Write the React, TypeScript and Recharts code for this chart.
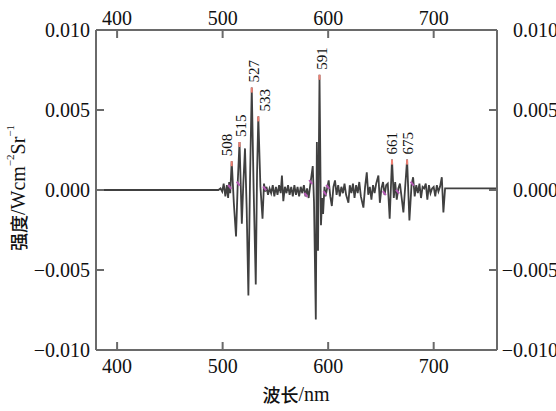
import React from 'react';
import { ComposedChart, Line, Scatter, XAxis, YAxis, Label } from 'recharts';

// Wavelength (nm) samples of the spectrum
const wavelength = [
  380, 496, 498, 499.6, 501, 502.6, 504, 505.2, 506.2, 507.2, 508.6, 510.6, 512.7, 514.4, 516.0, 518.2,
  519.6, 521.2, 522.8, 524.4, 526.0, 527.6, 529.4, 531.4, 532.6, 533.8, 535.8, 537.8, 539.2, 540.4,
  541.6, 543, 544.5, 546, 547.5, 549, 550.5, 552, 553.5, 555, 556.2, 557.5, 559, 560.5, 562, 563.5,
  565, 566.5, 568, 569.5, 571, 572.5, 574, 575.5, 577, 578.5, 580, 581.5, 583, 585.4, 586.6, 588.3,
  589.3, 590.4, 591.8, 593.2, 594.3, 595.2, 596.5, 597.5, 599, 600.5, 602, 603.5, 605, 606.5, 608,
  609.5, 611, 612.5, 614, 615.5, 617, 619.2, 620.5, 622, 623.5, 625, 626.5, 628, 629.5, 631, 633.4,
  635, 636.6, 638, 639.5, 641, 642.5, 644, 645.5, 647.6, 649, 650.5, 652, 653.5, 655, 656.5, 658.3,
  660.5, 662.2, 663.5, 665, 666.5, 668, 669.5, 671.3, 673, 674.8, 677.0, 679, 680.5, 682, 683.5, 685,
  686.5, 688, 689.5, 691, 692.5, 694, 695.5, 697, 698.5, 700, 701.5, 703, 704.5, 706, 707.7, 709.2,
  710.8, 760,
];

// Intensity (W cm^-2 Sr^-1) at each wavelength
const intensity = [
  0, 0, 0.0001, -0.0001, 0.0004, -0.0004, 0.0003, -0.0005, 0.0005, -0.0002, 0.0018, -0.0008, -0.0029, 0.0006, 0.0030, -0.0021,
  0.0004, 0.0026, -0.0012, -0.0066, 0.0008, 0.0064, 0.0, -0.0059, 0.0010, 0.0046, 0.0002, -0.0018, 0.0004, -0.0001,
  0.0002, -0.0003, 0.0001, -0.0002, 0.0003, -0.0004, 0.0002, -0.0003, 0.0003, -0.0002, 0.0009, -0.0007, 0.0002, -0.0002, 0.0003, -0.0003,
  0.0002, -0.0004, 0.0003, -0.0003, 0.0002, -0.0004, 0.0002, -0.0002, 0.0003, -0.0004, 0.0001, -0.0005, 0.0003, 0.0015, -0.0008, -0.0081,
  0.0030, -0.0038, 0.0072, -0.0022, -0.0005, -0.0015, 0.0002, -0.0004, 0.0001, 0.0006, -0.0004, -0.0010, 0.0002, 0.0006, -0.0003,
  0.0003, -0.0004, 0.0002, -0.0002, 0.0004, -0.0003, -0.0008, 0.0003, -0.0002, 0.0004, -0.0005, 0.0003, -0.0002, 0.0005, -0.0004, -0.0011,
  0.0002, 0.0011, -0.0003, 0.0002, -0.0006, 0.0003, -0.0002, 0.0004, 0.0009, -0.0008, 0.0001, 0.0005, -0.0003, 0.0003, 0.0004, -0.0018,
  0.0019, -0.0005, 0.0005, -0.0006, 0.0001, 0.0004, -0.0004, -0.0014, 0.0002, 0.0019, -0.0019, 0.0003, 0.0008, -0.0004, 0.0003, -0.0002,
  0.0004, -0.0005, 0.0002, 0.0001, 0.0004, -0.0006, 0.0003, -0.0002, 0.0001, 0.0002, -0.0004, 0.0003, -0.0001, 0.0002, 0.0008, -0.0014,
  0.0001, 0.0001,
];

// Labelled peaks
const peakLabels = ['508', '515', '527', '533', '591', '661', '675'];
const peakWavelength = [508.6, 516.0, 527.6, 533.8, 591.8, 660.5, 674.8];
const peakIntensity = [0.0018, 0.0030, 0.0064, 0.0046, 0.0072, 0.0019, 0.0019];

// Small magenta-highlighted spots near the zero crossings
const markWavelength = [506.7, 514.8, 539.8, 578.9, 583.5, 596.9, 599.6, 653.2, 665.8, 679.6];
const markIntensity = [0.0002, 0.0004, 0.0001, -0.0003, 0.0005, -0.0002, 0.0002, -0.0002, -0.0001, 0.0004];

const xTicks = [400, 500, 600, 700];
const yTicks = [-0.01, -0.005, 0, 0.005, 0.01];

const lineData = wavelength.map((w, i) => ({ w, v: intensity[i] }));
const peakData = peakWavelength.map((w, i) => ({ w, v: peakIntensity[i], label: peakLabels[i] }));
const markData = markWavelength.map((w, i) => ({ w, v: markIntensity[i] }));

const labelDx: Record<string, number> = { '508': -5, '515': 1, '527': 2, '533': 7, '591': 2, '661': 0, '675': 1 };

const SERIF = '"Liberation Serif", "Times New Roman", serif';
const CJK = '"Noto Sans CJK SC", sans-serif';
const AXIS = '#6a6a6a';

const fmtY = (v: number) => (v < 0 ? '\u2212' : '') + Math.abs(v).toFixed(3);

const PeakShape = (props: any) => {
  const { cx, cy, payload } = props;
  if (cx == null || cy == null) return null;
  const dx = labelDx[payload.label] ?? 0;
  return (
    <g>
      <line x1={cx} y1={cy} x2={cx} y2={cy + 5} stroke="#ef7f72" strokeWidth={2} />
      <text
        transform={`translate(${cx + dx},${cy - 5}) rotate(-90)`}
        textAnchor="start"
        dominantBaseline="central"
        fontFamily={SERIF}
        fontSize={15}
        fill="#111"
      >
        {payload.label}
      </text>
    </g>
  );
};

const MarkShape = (props: any) => {
  const { cx, cy } = props;
  if (cx == null || cy == null) return null;
  return <line x1={cx - 1.5} y1={cy - 2} x2={cx + 1.5} y2={cy + 2} stroke="#b45ab4" strokeWidth={2} />;
};

const YTitle = () => (
  <text transform="translate(18,188) rotate(-90)" textAnchor="middle" dominantBaseline="central" fill="#111">
    <tspan fontFamily={CJK} fontSize={18} fontWeight={500}>强度</tspan>
    <tspan fontFamily={SERIF} fontSize={20}>/Wcm</tspan>
    <tspan fontFamily={SERIF} fontSize={11} dy={-8}>−2</tspan>
    <tspan fontFamily={SERIF} fontSize={20} dy={8}>Sr</tspan>
    <tspan fontFamily={SERIF} fontSize={11} dy={-8}>−1</tspan>
  </text>
);

const XTitle = () => (
  <text x={296} y={394} textAnchor="middle" dominantBaseline="central" fill="#111">
    <tspan fontFamily={CJK} fontSize={18} fontWeight={500}>波长</tspan>
    <tspan fontFamily={SERIF} fontSize={20}>/nm</tspan>
  </text>
);

const tickStyle = { fill: '#111', fontSize: 20, fontFamily: SERIF };

export default function App() {
  return (
    <div style={{ position: 'absolute', left: 0, top: 0, width: 556, height: 411, background: '#fff' }}>
      <ComposedChart width={556} height={411} margin={{ top: 0, right: 0, bottom: 0, left: 0 }}>
        <XAxis
          xAxisId="bottom"
          dataKey="w"
          type="number"
          domain={[380, 760]}
          ticks={xTicks}
          orientation="bottom"
          height={61}
          axisLine={{ stroke: AXIS, strokeWidth: 2 }}
          tickLine={{ stroke: AXIS, strokeWidth: 2 }}
          tickSize={-8}
          tickMargin={17}
          tick={tickStyle}
          allowDataOverflow
        >
          <Label content={<XTitle />} />
        </XAxis>
        <XAxis
          xAxisId="top"
          dataKey="w"
          type="number"
          domain={[380, 760]}
          ticks={xTicks}
          orientation="top"
          height={30}
          axisLine={{ stroke: AXIS, strokeWidth: 2 }}
          tickLine={{ stroke: AXIS, strokeWidth: 2 }}
          tickSize={-8}
          tickMargin={13}
          tick={tickStyle}
          allowDataOverflow
        />
        <YAxis
          yAxisId="left"
          type="number"
          domain={[-0.01, 0.01]}
          ticks={yTicks}
          orientation="left"
          width={96}
          axisLine={{ stroke: AXIS, strokeWidth: 2 }}
          tickLine={{ stroke: AXIS, strokeWidth: 2 }}
          tickSize={-8}
          tickMargin={14}
          tick={tickStyle}
          tickFormatter={fmtY}
          allowDataOverflow
        >
          <Label content={<YTitle />} />
        </YAxis>
        <YAxis
          yAxisId="right"
          type="number"
          domain={[-0.01, 0.01]}
          ticks={yTicks}
          orientation="right"
          width={59}
          axisLine={{ stroke: AXIS, strokeWidth: 2 }}
          tickLine={{ stroke: AXIS, strokeWidth: 2 }}
          tickSize={-8}
          tickMargin={69}
          tick={{ ...tickStyle, textAnchor: 'end' }}
          tickFormatter={fmtY}
          allowDataOverflow
        />
        <Line
          xAxisId="bottom"
          yAxisId="left"
          data={lineData}
          dataKey="v"
          type="linear"
          dot={false}
          stroke="#404040"
          strokeWidth={1.8}
          isAnimationActive={false}
        />
        <Scatter
          xAxisId="bottom"
          yAxisId="left"
          data={markData}
          dataKey="v"
          shape={<MarkShape />}
          isAnimationActive={false}
        />
        <Scatter
          xAxisId="bottom"
          yAxisId="left"
          data={peakData}
          dataKey="v"
          shape={<PeakShape />}
          isAnimationActive={false}
        />
      </ComposedChart>
    </div>
  );
}
